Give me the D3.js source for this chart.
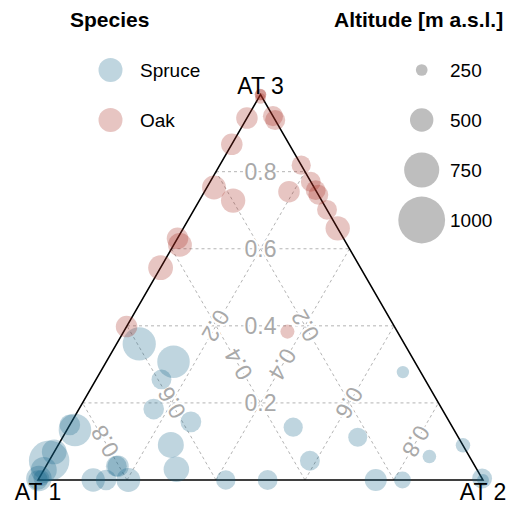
<!DOCTYPE html>
<html>
<head>
<meta charset="utf-8">
<script src="https://cdn.jsdelivr.net/npm/d3@7"></script>
<style>
  body { margin: 0; background: #fff; }
  svg { display: block; font-family: "Liberation Sans", Arial, sans-serif; }
</style>
</head>
<body>
<svg id="chart"></svg>
<script>
// -----------------------------
// DATA (AT1, AT2, AT3 shares + altitude)
// -----------------------------
const speciesNames = ["Spruce", "Oak"];
const vertexLabels = ["AT 1", "AT 2", "AT 3"];
const gridTicks = [0.2, 0.4, 0.6, 0.8];
const altLegend = [250, 500, 750, 1000];

const spruceComp = [
  [0.596, 0.051, 0.353], [0.542, 0.151, 0.307], [0.592, 0.147, 0.261],
  [0.648, 0.168, 0.184], [0.581, 0.268, 0.151], [0.656, 0.253, 0.091],
  [0.675, 0.297, 0.028], [0.358, 0.505, 0.137], [0.364, 0.586, 0.050],
  [0.226, 0.663, 0.111], [0.040, 0.680, 0.280], [0.000, 0.910, 0.090],
  [0.090, 0.849, 0.061], [0.241, 0.759, 0.000], [0.181, 0.819, 0.000],
  [0.484, 0.516, 0.000], [0.578, 0.422, 0.000], [0.000, 0.996, 0.004],
  [0.000, 1.000, 0.000], [0.797, 0.203, 0.000], [0.847, 0.153, 0.000],
  [0.876, 0.124, 0.000], [0.802, 0.162, 0.036], [0.806, 0.158, 0.036],
  [0.852, 0.018, 0.130], [0.857, 0.000, 0.143], [0.950, 0.000, 0.050],
  [0.927, 0.000, 0.073], [0.974, 0.000, 0.026], [0.996, 0.000, 0.004],
  [0.990, 0.005, 0.005], [1.000, 0.000, 0.000]
];
const spruceAlt = [
  710, 695, 425, 440, 445, 555, 545, 410, 425, 405, 265, 310,
  290, 470, 360, 425, 415, 425, 255, 510, 440, 500, 455, 445,
  695, 440, 865, 530, 555, 545, 340, 420
];

const oakComp = [
  [0.000, 0.000, 1.000], [0.000, 0.000, 1.000], [0.005, 0.005, 0.990],
  [0.061, 0.000, 0.939], [0.000, 0.056, 0.944], [0.000, 0.066, 0.934],
  [0.129, 0.000, 0.871], [0.000, 0.183, 0.817], [0.225, 0.016, 0.759],
  [0.199, 0.076, 0.725], [0.062, 0.190, 0.748], [0.000, 0.226, 0.774],
  [0.000, 0.248, 0.752], [0.000, 0.260, 0.740], [0.000, 0.299, 0.701],
  [0.000, 0.347, 0.653], [0.373, 0.000, 0.627], [0.376, 0.014, 0.610],
  [0.449, 0.000, 0.551], [0.602, 0.000, 0.398], [0.247, 0.368, 0.385]
];
const oakAlt = [
  250, 240, 230, 460, 430, 430, 460, 410, 510, 520, 460, 425,
  425, 425, 425, 520, 460, 510, 530, 460, 300
];

// -----------------------------
// SETUP
// -----------------------------
let width = 509,
    height = 505;

let svg = d3.select("#chart")
            .attr("width", width)
            .attr("height", height);

let colors = { Spruce: "#14628a", Oak: "#a8281f" };
let pointAlpha = 0.27;

// ternary -> screen: x from (AT2 + AT3/2), y from AT3
let xScale = d3.scaleLinear().domain([0, 1]).range([38, 483]);
let yScale = d3.scaleLinear().domain([0, 1]).range([480, 94.6]);
let rScale = d3.scaleLinear().domain([0, 1000]).range([0, 23.4]);

function proj(p) {
  return [xScale(p[1] + p[2] / 2), yScale(p[2])];
}

// -----------------------------
// GRID
// -----------------------------
let grid = svg.append("g");
let labelSpecs = [];

gridTicks.forEach(t => {
  // constant AT3 (horizontal)
  labelSpecs.push({ p1: [1 - t, 0, t], p2: [0, 1 - t, t], t: t, rot: 0 });
  // constant AT1
  labelSpecs.push({ p1: [t, 1 - t, 0], p2: [t, 0, 1 - t], t: t, rot: -120 });
  // constant AT2
  labelSpecs.push({ p1: [1 - t, t, 0], p2: [0, t, 1 - t], t: t, rot: 120 });
});

labelSpecs.forEach(s => {
  let a = proj(s.p1), b = proj(s.p2);
  grid.append("line")
      .attr("x1", a[0]).attr("y1", a[1])
      .attr("x2", b[0]).attr("y2", b[1])
      .attr("stroke", "#b4b4b4")
      .attr("stroke-width", 1)
      .attr("stroke-dasharray", "3,3");
});

labelSpecs.forEach(s => {
  let a = proj(s.p1), b = proj(s.p2);
  let mx = (a[0] + b[0]) / 2, my = (a[1] + b[1]) / 2;
  grid.append("text")
      .attr("transform", `translate(${mx},${my}) rotate(${s.rot})`)
      .attr("text-anchor", "middle")
      .attr("dy", "0.36em")
      .attr("font-size", 23)
      .attr("fill", "#a9a9a9")
      .attr("stroke", "#fff")
      .attr("stroke-width", 4)
      .attr("paint-order", "stroke")
      .text(s.t.toFixed(1));
});

// -----------------------------
// TRIANGLE
// -----------------------------
let corners = [[1, 0, 0], [0, 1, 0], [0, 0, 1]].map(proj);
svg.append("path")
   .attr("d", d3.line()(corners) + "Z")
   .attr("fill", "none")
   .attr("stroke", "#000")
   .attr("stroke-width", 1.5);

// -----------------------------
// POINTS
// -----------------------------
function drawSpecies(name, comp, alt) {
  svg.append("g")
     .selectAll("circle")
     .data(comp.map((c, i) => ({ c: c, alt: alt[i] })))
     .enter()
     .append("circle")
     .attr("cx", d => proj(d.c)[0])
     .attr("cy", d => proj(d.c)[1])
     .attr("r", d => rScale(d.alt))
     .attr("fill", colors[name])
     .attr("fill-opacity", pointAlpha);
}
drawSpecies("Spruce", spruceComp, spruceAlt);
drawSpecies("Oak", oakComp, oakAlt);

// vertex labels
let vPos = [[corners[0][0], 499.5], [corners[1][0], 499.5], [corners[2][0], 94]];
vertexLabels.forEach((lab, i) => {
  svg.append("text")
     .attr("x", vPos[i][0])
     .attr("y", vPos[i][1])
     .attr("text-anchor", "middle")
     .attr("font-size", 23)
     .attr("fill", "#000")
     .text(lab);
});

// -----------------------------
// LEGENDS
// -----------------------------
svg.append("text")
   .attr("x", 70).attr("y", 26.5)
   .attr("font-size", 21).attr("font-weight", "bold")
   .text("Species");

speciesNames.forEach((name, i) => {
  let y = 70 + i * 50;
  svg.append("circle")
     .attr("cx", 110.5).attr("cy", y).attr("r", 12)
     .attr("fill", colors[name]).attr("fill-opacity", pointAlpha);
  svg.append("text")
     .attr("x", 140).attr("y", y).attr("dy", "0.36em")
     .attr("font-size", 19)
     .text(name);
});

svg.append("text")
   .attr("x", 334).attr("y", 26.5)
   .attr("font-size", 21).attr("font-weight", "bold")
   .text("Altitude [m a.s.l.]");

altLegend.forEach((v, i) => {
  let y = 70 + i * 50;
  svg.append("circle")
     .attr("cx", 421.7).attr("cy", y).attr("r", rScale(v))
     .attr("fill", "#bebebe");
  svg.append("text")
     .attr("x", 450).attr("y", y).attr("dy", "0.36em")
     .attr("font-size", 19)
     .text(v);
});
</script>
</body>
</html>
